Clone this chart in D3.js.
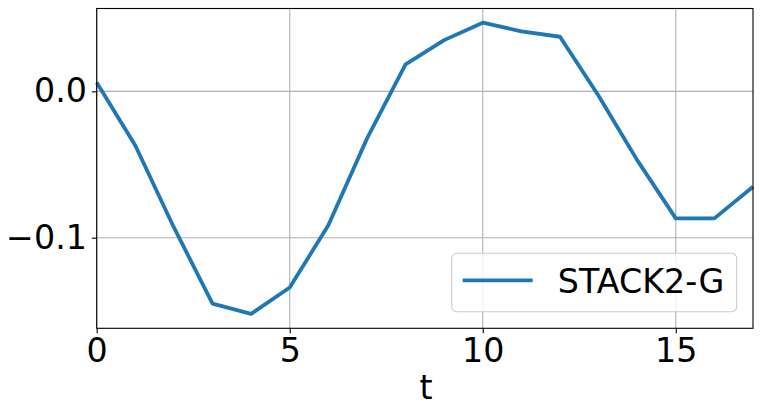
<!DOCTYPE html>
<html>
<head>
<meta charset="utf-8">
<script src="https://cdn.jsdelivr.net/npm/d3@7"></script>
<style>
  body { margin: 0; background: #fff; }
  text { font-family: "DejaVu Sans", sans-serif; fill: #000; }
</style>
</head>
<body>
<div id="chart"></div>
<script>
// data
var tValues = [0, 1, 2, 3, 4, 5, 6, 7, 8, 9, 10, 11, 12, 13, 14, 15, 16, 17];
var stackValues = [0.006, -0.037, -0.093, -0.145, -0.152, -0.134, -0.0915, -0.0323, 0.0184,
                   0.035, 0.0469, 0.041, 0.0373, -0.003, -0.047, -0.0868, -0.0868, -0.0652];
var xTicks = [0, 5, 10, 15];
var yTicks = [0.0, -0.1];
var seriesName = "STACK2-G";
var xLabel = "t";

var w = 762, h = 414;
var margin = {left: 96.7, right: 9, top: 8.5, bottom: 85.7};

var svg = d3.select("#chart").append("svg")
    .attr("width", w)
    .attr("height", h);

var x = d3.scaleLinear().domain([0, 17]).range([margin.left, w - margin.right]);
var y = d3.scaleLinear().domain([-0.1619, 0.0566]).range([h - margin.bottom, margin.top]);

var fontSize = 33.3;

// grid
svg.append("g").selectAll("line").data(xTicks).enter().append("line")
    .attr("x1", function(d) { return x(d); }).attr("x2", function(d) { return x(d); })
    .attr("y1", margin.top).attr("y2", h - margin.bottom)
    .attr("stroke", "#b0b0b0").attr("stroke-width", 1.1);
svg.append("g").selectAll("line").data(yTicks).enter().append("line")
    .attr("y1", function(d) { return y(d); }).attr("y2", function(d) { return y(d); })
    .attr("x1", margin.left).attr("x2", w - margin.right)
    .attr("stroke", "#b0b0b0").attr("stroke-width", 1.1);

// axes
var xAxis = d3.axisBottom(x).tickValues(xTicks).tickSize(4.9).tickPadding(4.9)
    .tickFormat(d3.format("d"));
var yAxis = d3.axisLeft(y).tickValues(yTicks).tickSize(4.9).tickPadding(4.9)
    .tickFormat(function(d) { return d3.format(".1f")(d).replace("-", "\u2212"); });

var gx = svg.append("g").attr("transform", "translate(0," + (h - margin.bottom) + ")").call(xAxis);
var gy = svg.append("g").attr("transform", "translate(" + margin.left + ",0)").call(yAxis);
[gx, gy].forEach(function(g) {
  g.select(".domain").remove();
  g.selectAll(".tick line").attr("stroke", "#000").attr("stroke-width", 1.1);
  g.selectAll("text").attr("font-size", fontSize).attr("font-family", "DejaVu Sans").attr("fill", "#000");
});

// data line
var line = d3.line()
    .x(function(d, i) { return x(tValues[i]); })
    .y(function(d) { return y(d); });

svg.append("path")
    .datum(stackValues)
    .attr("d", line)
    .attr("fill", "none")
    .attr("stroke", "#1f77b4")
    .attr("stroke-width", 3.8)
    .attr("stroke-linejoin", "round");

// frame
svg.append("rect")
    .attr("x", margin.left).attr("y", margin.top)
    .attr("width", w - margin.right - margin.left)
    .attr("height", h - margin.bottom - margin.top)
    .attr("fill", "none").attr("stroke", "#000").attr("stroke-width", 1.1);

// x label
svg.append("text")
    .attr("x", 426)
    .attr("y", 399)
    .attr("text-anchor", "middle")
    .attr("font-size", fontSize)
    .text(xLabel);

// legend
var leg = svg.append("g");
leg.append("rect")
    .attr("x", 451.7).attr("y", 253.3)
    .attr("width", 285).attr("height", 58.4)
    .attr("rx", 5).attr("ry", 5)
    .attr("fill", "#fff").attr("fill-opacity", 0.8)
    .attr("stroke", "#cccccc").attr("stroke-width", 1.1);
leg.append("line")
    .attr("x1", 462.7).attr("x2", 532.7)
    .attr("y1", 280.3).attr("y2", 280.3)
    .attr("stroke", "#1f77b4").attr("stroke-width", 3.8);
leg.append("text")
    .attr("x", 557.8).attr("y", 292.7)
    .attr("font-size", fontSize)
    .text(seriesName);
</script>
</body>
</html>
